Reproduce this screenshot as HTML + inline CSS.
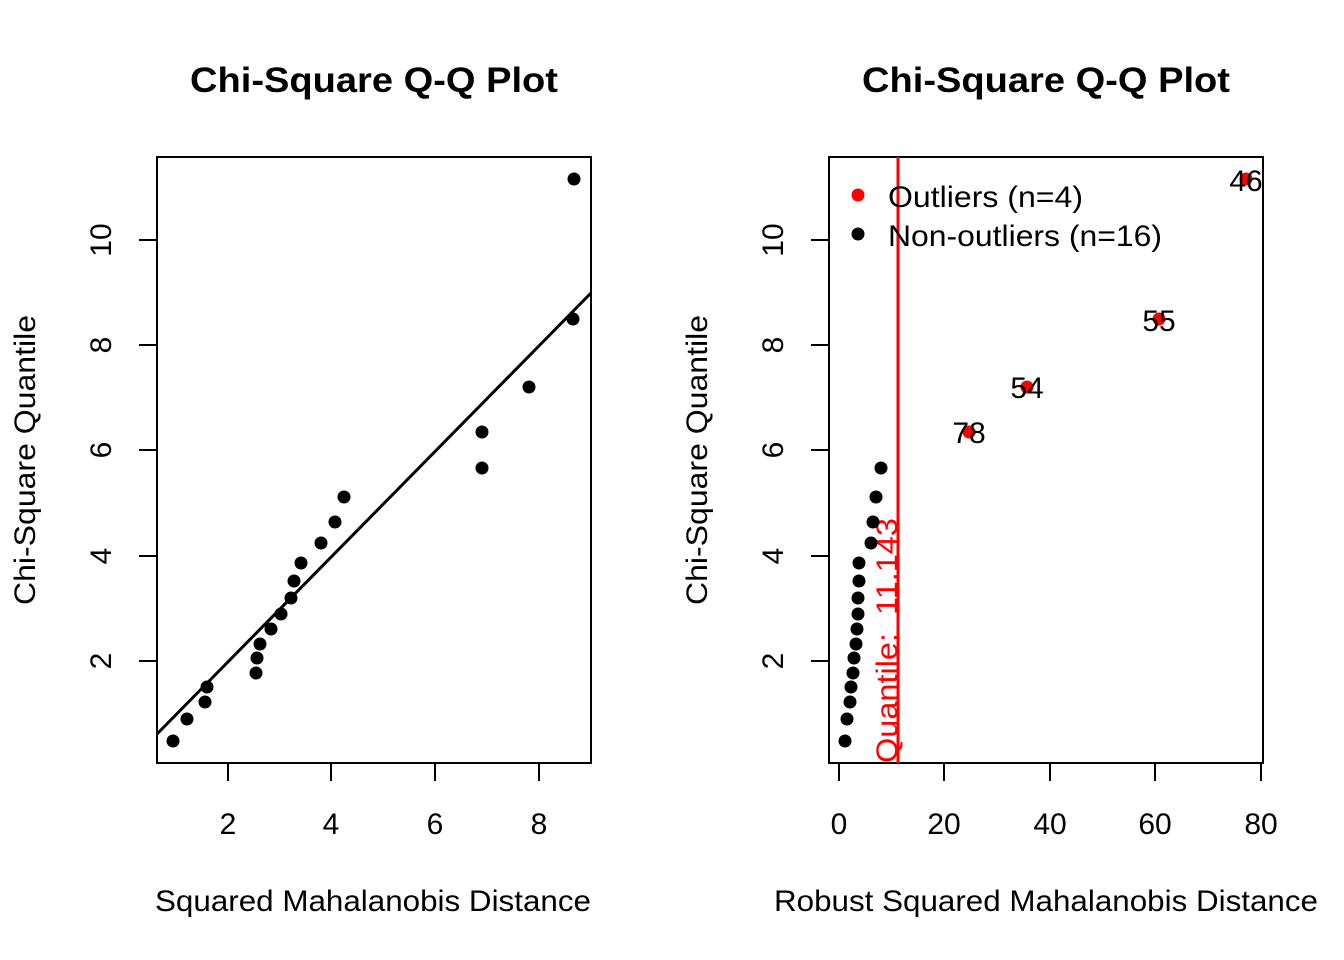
<!DOCTYPE html>
<html><head><style>body{margin:0;background:#fff}svg{display:block}</style></head><body>
<svg width="1344" height="960" xmlns="http://www.w3.org/2000/svg" font-family="Liberation Sans, Arial, sans-serif">
<rect width="1344" height="960" fill="#fff"/>
<!-- Left plot -->
<text x="190" y="92" font-size="35" font-weight="bold" textLength="368" lengthAdjust="spacingAndGlyphs">Chi-Square Q-Q Plot</text>
<rect x="157" y="157" width="434" height="606" fill="none" stroke="#000" stroke-width="2"/>
<g stroke="#000" stroke-width="2">
<line x1="228" y1="763" x2="539" y2="763"/>
<line x1="228" y1="763" x2="228" y2="781"/><line x1="331" y1="763" x2="331" y2="781"/><line x1="435" y1="763" x2="435" y2="781"/><line x1="539" y1="763" x2="539" y2="781"/>
<line x1="157" y1="661" x2="157" y2="240"/>
<line x1="139" y1="661" x2="157" y2="661"/><line x1="139" y1="556" x2="157" y2="556"/><line x1="139" y1="450" x2="157" y2="450"/><line x1="139" y1="345" x2="157" y2="345"/><line x1="139" y1="240" x2="157" y2="240"/>
</g>
<g font-size="30" text-anchor="middle">
<text x="228" y="834">2</text><text x="331" y="834">4</text><text x="435" y="834">6</text><text x="539" y="834">8</text>
<text transform="translate(111,661) rotate(-90)">2</text>
<text transform="translate(111,556) rotate(-90)">4</text>
<text transform="translate(111,450) rotate(-90)">6</text>
<text transform="translate(111,345) rotate(-90)">8</text>
<text transform="translate(111,240) rotate(-90)">10</text>
</g>
<g font-size="30">
<text x="155" y="911" textLength="436" lengthAdjust="spacingAndGlyphs">Squared Mahalanobis Distance</text>
<text transform="translate(35,605) rotate(-90)" textLength="290" lengthAdjust="spacingAndGlyphs">Chi-Square Quantile</text>
</g>
<line x1="157" y1="734" x2="591" y2="293" stroke="#000" stroke-width="3"/>
<g fill="#000">
<circle cx="173" cy="741" r="6.5"/><circle cx="187" cy="719" r="6.5"/><circle cx="205" cy="702" r="6.5"/><circle cx="207" cy="687" r="6.5"/><circle cx="256" cy="673" r="6.5"/><circle cx="257" cy="658" r="6.5"/><circle cx="260" cy="644" r="6.5"/><circle cx="271" cy="629" r="6.5"/><circle cx="281" cy="614" r="6.5"/><circle cx="291" cy="598" r="6.5"/><circle cx="294" cy="581" r="6.5"/><circle cx="301" cy="563" r="6.5"/><circle cx="321" cy="543" r="6.5"/><circle cx="335" cy="522" r="6.5"/><circle cx="344" cy="497" r="6.5"/><circle cx="482" cy="468" r="6.5"/><circle cx="482" cy="432" r="6.5"/><circle cx="529" cy="387" r="6.5"/><circle cx="573" cy="319" r="6.5"/><circle cx="574" cy="179" r="6.5"/>
</g>
<!-- Right plot -->
<text x="862" y="92" font-size="35" font-weight="bold" textLength="368" lengthAdjust="spacingAndGlyphs">Chi-Square Q-Q Plot</text>
<rect x="829" y="157" width="434" height="606" fill="none" stroke="#000" stroke-width="2"/>
<g stroke="#000" stroke-width="2">
<line x1="839" y1="763" x2="1261" y2="763"/>
<line x1="839" y1="763" x2="839" y2="781"/><line x1="944" y1="763" x2="944" y2="781"/><line x1="1050" y1="763" x2="1050" y2="781"/><line x1="1155" y1="763" x2="1155" y2="781"/><line x1="1261" y1="763" x2="1261" y2="781"/>
<line x1="829" y1="661" x2="829" y2="240"/>
<line x1="811" y1="661" x2="829" y2="661"/><line x1="811" y1="556" x2="829" y2="556"/><line x1="811" y1="450" x2="829" y2="450"/><line x1="811" y1="345" x2="829" y2="345"/><line x1="811" y1="240" x2="829" y2="240"/>
</g>
<g font-size="30" text-anchor="middle">
<text x="839" y="834">0</text><text x="944" y="834">20</text><text x="1050" y="834">40</text><text x="1155" y="834">60</text><text x="1261" y="834">80</text>
<text transform="translate(783,661) rotate(-90)">2</text>
<text transform="translate(783,556) rotate(-90)">4</text>
<text transform="translate(783,450) rotate(-90)">6</text>
<text transform="translate(783,345) rotate(-90)">8</text>
<text transform="translate(783,240) rotate(-90)">10</text>
</g>
<g font-size="30">
<text x="774" y="911" textLength="544" lengthAdjust="spacingAndGlyphs">Robust Squared Mahalanobis Distance</text>
<text transform="translate(707,605) rotate(-90)" textLength="290" lengthAdjust="spacingAndGlyphs">Chi-Square Quantile</text>
</g>
<line x1="898" y1="157" x2="898" y2="763" stroke="#f00" stroke-width="3"/>
<text transform="translate(897,763) rotate(-90)" font-size="30" fill="#f00" textLength="245" lengthAdjust="spacingAndGlyphs" xml:space="preserve">Quantile:  11.143</text>
<g fill="#000">
<circle cx="845" cy="741" r="6.5"/><circle cx="847" cy="719" r="6.5"/><circle cx="850" cy="702" r="6.5"/><circle cx="851" cy="687" r="6.5"/><circle cx="853" cy="673" r="6.5"/><circle cx="854" cy="658" r="6.5"/><circle cx="856" cy="644" r="6.5"/><circle cx="857" cy="629" r="6.5"/><circle cx="858" cy="614" r="6.5"/><circle cx="858" cy="598" r="6.5"/><circle cx="859" cy="581" r="6.5"/><circle cx="859" cy="563" r="6.5"/><circle cx="871" cy="543" r="6.5"/><circle cx="873" cy="522" r="6.5"/><circle cx="876" cy="497" r="6.5"/><circle cx="881" cy="468" r="6.5"/>
</g>
<g fill="#f00">
<circle cx="969" cy="432" r="6.5"/><circle cx="1027" cy="387" r="6.5"/><circle cx="1159" cy="319" r="6.5"/><circle cx="1246" cy="179" r="6.5"/>
</g>
<g font-size="30" text-anchor="middle">
<text x="969" y="443">78</text><text x="1027" y="398">54</text><text x="1159" y="331">55</text><text x="1246" y="191">46</text>
</g>
<circle cx="858" cy="195" r="6.5" fill="#f00"/>
<circle cx="858" cy="234" r="6.5" fill="#000"/>
<text x="888" y="207" font-size="30" textLength="195" lengthAdjust="spacingAndGlyphs">Outliers (n=4)</text>
<text x="888" y="246" font-size="30" textLength="274" lengthAdjust="spacingAndGlyphs">Non-outliers (n=16)</text>
</svg>
</body></html>
